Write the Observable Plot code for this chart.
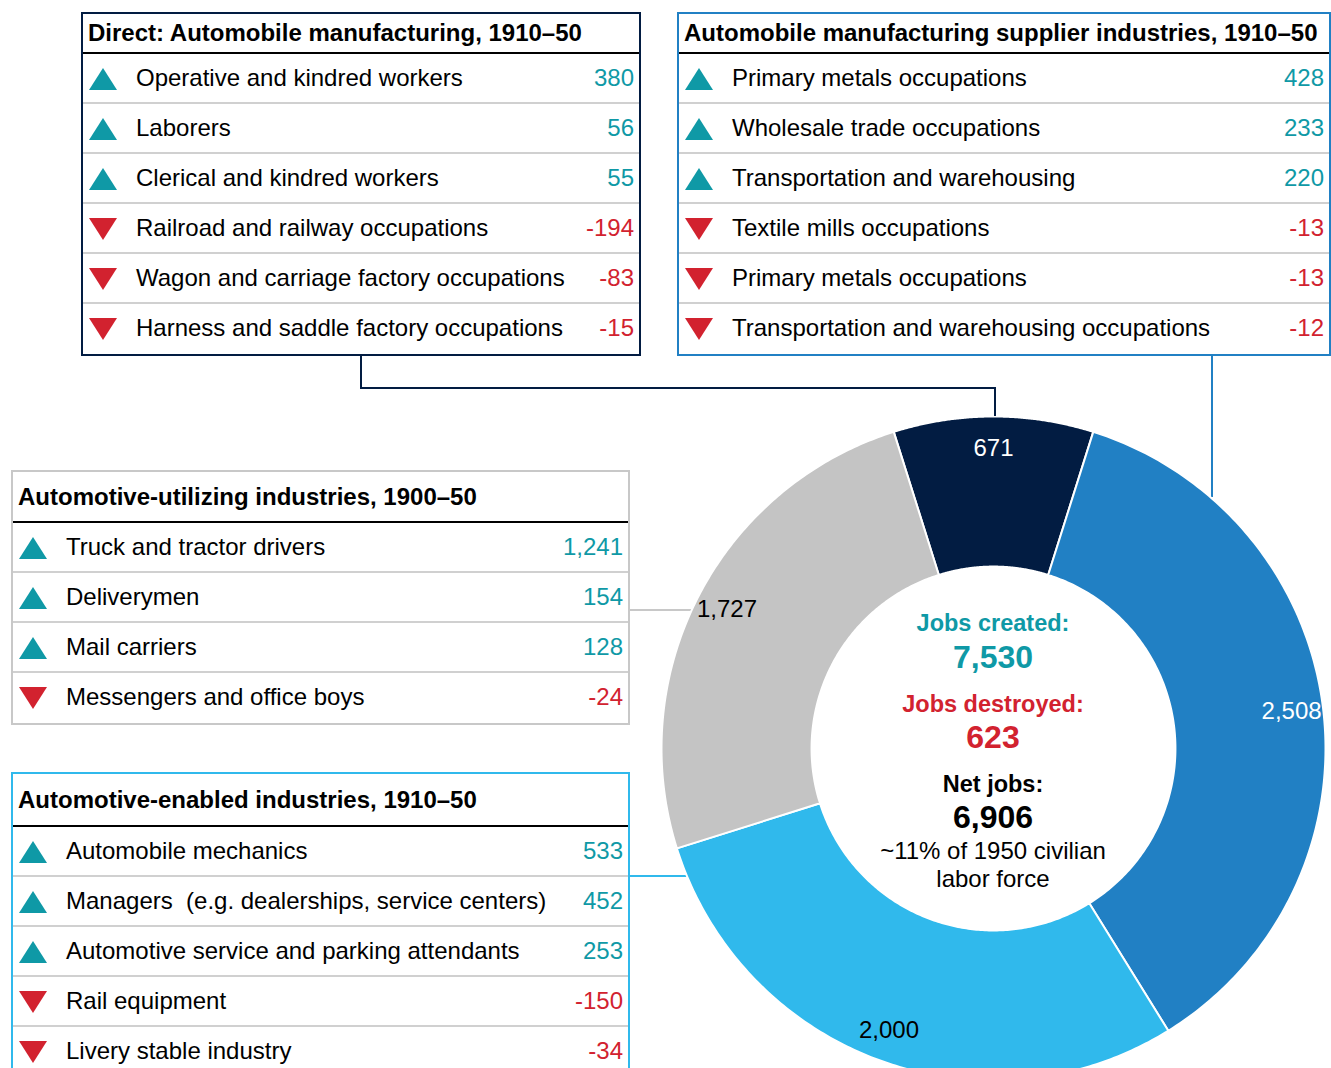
<!DOCTYPE html>
<html><head><meta charset="utf-8">
<script src="https://cdn.jsdelivr.net/npm/d3@7"></script>
<script src="https://cdn.jsdelivr.net/npm/@observablehq/plot@0.6"></script>
<style>
html,body{margin:0;padding:0;background:#fff;}
#root{position:relative;width:1331px;height:1068px;overflow:hidden;font-family:"Liberation Sans",Arial,sans-serif;color:#000;}
.box{position:absolute;box-sizing:border-box;border:2px solid;background:#fff;}
.hdr{position:absolute;left:0;right:0;top:0;box-sizing:border-box;border-bottom:2px solid #000;font-weight:bold;font-size:24px;padding-left:5px;display:flex;align-items:center;white-space:nowrap;}
.row{position:absolute;left:0;right:0;box-sizing:border-box;border-bottom:2px solid #d0d0d0;font-size:24px;white-space:pre;}
.row.last{border-bottom:none;}
.row svg{position:absolute;left:6px;}
.row .lab{position:absolute;left:53px;white-space:pre;}
.row .val{position:absolute;right:5px;}
.conn{position:absolute;}
.ctr{position:absolute;left:793px;width:400px;text-align:center;height:40px;line-height:40px;white-space:nowrap;}
#donut{position:absolute;left:661px;top:416px;}
</style>
</head><body><div id="root"></div>
<script>
// ---------- data ----------
const directTitle = "Direct: Automobile manufacturing, 1910\u201350";
const directLabels = ["Operative and kindred workers","Laborers","Clerical and kindred workers","Railroad and railway occupations","Wagon and carriage factory occupations","Harness and saddle factory occupations"];
const directValues = [380, 56, 55, -194, -83, -15];

const supplierTitle = "Automobile manufacturing supplier industries, 1910\u201350";
const supplierLabels = ["Primary metals occupations","Wholesale trade occupations","Transportation and warehousing","Textile mills occupations","Primary metals occupations","Transportation and warehousing occupations"];
const supplierValues = [428, 233, 220, -13, -13, -12];

const utilizingTitle = "Automotive-utilizing industries, 1900\u201350";
const utilizingLabels = ["Truck and tractor drivers","Deliverymen","Mail carriers","Messengers and office boys"];
const utilizingValues = [1241, 154, 128, -24];

const enabledTitle = "Automotive-enabled industries, 1910\u201350";
const enabledLabels = ["Automobile mechanics","Managers  (e.g. dealerships, service centers)","Automotive service and parking attendants","Rail equipment","Livery stable industry"];
const enabledValues = [533, 452, 253, -150, -34];

const segmentNames = ["Direct","Supplier","Enabled","Utilizing"];
const segmentValues = [671, 2508, 2000, 1727];

const jobsCreated = 7530;
const jobsDestroyed = 623;
const netJobs = 6906;
const laborShareNote = ["~11% of 1950 civilian", "labor force"];

// ---------- styles ----------
const TEAL = "#0f99a6", RED = "#d2222f";
const segColor = {Direct:"#021c42", Supplier:"#2180c4", Enabled:"#30b9ec", Utilizing:"#c4c4c4"};
const segLabelColor = {Direct:"#fff", Supplier:"#fff", Enabled:"#000", Utilizing:"#000"};
const fmt = v => (v < 0 ? "-" : "") + d3.format(",")(Math.abs(v));

const root = document.getElementById("root");

// connectors (drawn first, below everything)
const conns = [
  [360,356,2,33,"#021c42"],[360,387,636,2,"#021c42"],[994,387,2,30,"#021c42"],
  [1211,354,2,143,"#2180c4"],
  [630,609,62,2,"#c8c8c8"],
  [630,875,58,2,"#30b9ec"]
];
conns.forEach(([l,t,w,h,c]) => {
  const d = document.createElement("div");
  d.className = "conn";
  Object.assign(d.style, {left:l+"px", top:t+"px", width:w+"px", height:h+"px", background:c});
  root.appendChild(d);
});

function tri(up, color) {
  return up
    ? `<svg width="28" height="24" style="top:13px"><polygon points="0,23 14,1 28,23" fill="${color}"/></svg>`
    : `<svg width="28" height="24" style="top:13px"><polygon points="0,1 28,1 14,23" fill="${color}"/></svg>`;
}

function makeTable({left, top, width, border, headerH, rowH, title, labels, values}) {
  const box = document.createElement("div");
  box.className = "box";
  const h = headerH + rowH * labels.length + 4;
  Object.assign(box.style, {left:left+"px", top:top+"px", width:width+"px", height:h+"px", borderColor:border});
  let html = `<div class="hdr" style="height:${headerH}px">${title}</div>`;
  labels.forEach((lab, i) => {
    const v = values[i];
    const c = v >= 0 ? TEAL : RED;
    const last = i === labels.length - 1 ? " last" : "";
    html += `<div class="row${last}" style="top:${headerH + i*rowH}px;height:${rowH}px;line-height:${rowH-2}px">${tri(v>=0,c)}<span class="lab">${lab}</span><span class="val" style="color:${c}">${fmt(v)}</span></div>`;
  });
  box.innerHTML = html;
  root.appendChild(box);
}

makeTable({left:81, top:12, width:560, border:"#021c42", headerH:40, rowH:50, title:directTitle, labels:directLabels, values:directValues});
makeTable({left:677, top:12, width:654, border:"#2180c4", headerH:40, rowH:50, title:supplierTitle, labels:supplierLabels, values:supplierValues});
makeTable({left:11, top:470, width:619, border:"#c8c8c8", headerH:51, rowH:50, title:utilizingTitle, labels:utilizingLabels, values:utilizingValues});
makeTable({left:11, top:772, width:619, border:"#30b9ec", headerH:53, rowH:50, title:enabledTitle, labels:enabledLabels, values:enabledValues});

// ---------- donut via Plot ----------
const total = d3.sum(segmentValues);
const INNER = 0.548;
let acc = -segmentValues[0] / total * Math.PI; // first slice centred at the top
const segs = segmentNames.map((name, i) => {
  const a0 = acc, a1 = acc + segmentValues[i] / total * 2 * Math.PI;
  acc = a1;
  const pts = [];
  const n = 160;
  for (let k = 0; k <= n; k++) { const a = a0 + (a1 - a0) * k / n; pts.push({x: Math.sin(a), y: Math.cos(a)}); }
  for (let k = n; k >= 0; k--) { const a = a0 + (a1 - a0) * k / n; pts.push({x: INNER*Math.sin(a), y: INNER*Math.cos(a)}); }
  pts.push(pts[0]);
  return {name, value: segmentValues[i], mid: (a0 + a1) / 2, pts};
});

const LR = 0.905;
const donut = Plot.plot({
  width: 664, height: 664, margin: 0,
  x: {domain: [-1, 1], axis: null},
  y: {domain: [-1, 1], axis: null},
  style: {fontFamily: "'Liberation Sans', Arial, sans-serif", background: "transparent"},
  marks: [
    ...segs.map(s => Plot.line(s.pts, {x: "x", y: "y", fill: segColor[s.name], stroke: "white", strokeWidth: 2, curve: "linear"})),
    ...segs.map(s => Plot.text([s], {x: d => LR*Math.sin(d.mid), y: d => LR*Math.cos(d.mid), text: d => fmt(d.value), fill: segLabelColor[s.name], fontSize: 24}))
  ]
});
donut.id = "donut";
root.appendChild(donut);

// ---------- centre text ----------
const centre = [
  ["Jobs created:", 623, "bold", 23.5, TEAL],
  [fmt(jobsCreated), 657, "bold", 32, TEAL],
  ["Jobs destroyed:", 704, "bold", 23.5, RED],
  [fmt(jobsDestroyed), 737, "bold", 32, RED],
  ["Net jobs:", 784, "bold", 23.5, "#000"],
  [fmt(netJobs), 817, "bold", 32, "#000"],
  [laborShareNote[0], 851, "normal", 24, "#000"],
  [laborShareNote[1], 879, "normal", 24, "#000"]
];
centre.forEach(([t, cy, w, fs, c]) => {
  const d = document.createElement("div");
  d.className = "ctr";
  d.textContent = t;
  Object.assign(d.style, {top:(cy-20)+"px", fontWeight:w, fontSize:fs+"px", color:c});
  root.appendChild(d);
});
</script></body></html>
